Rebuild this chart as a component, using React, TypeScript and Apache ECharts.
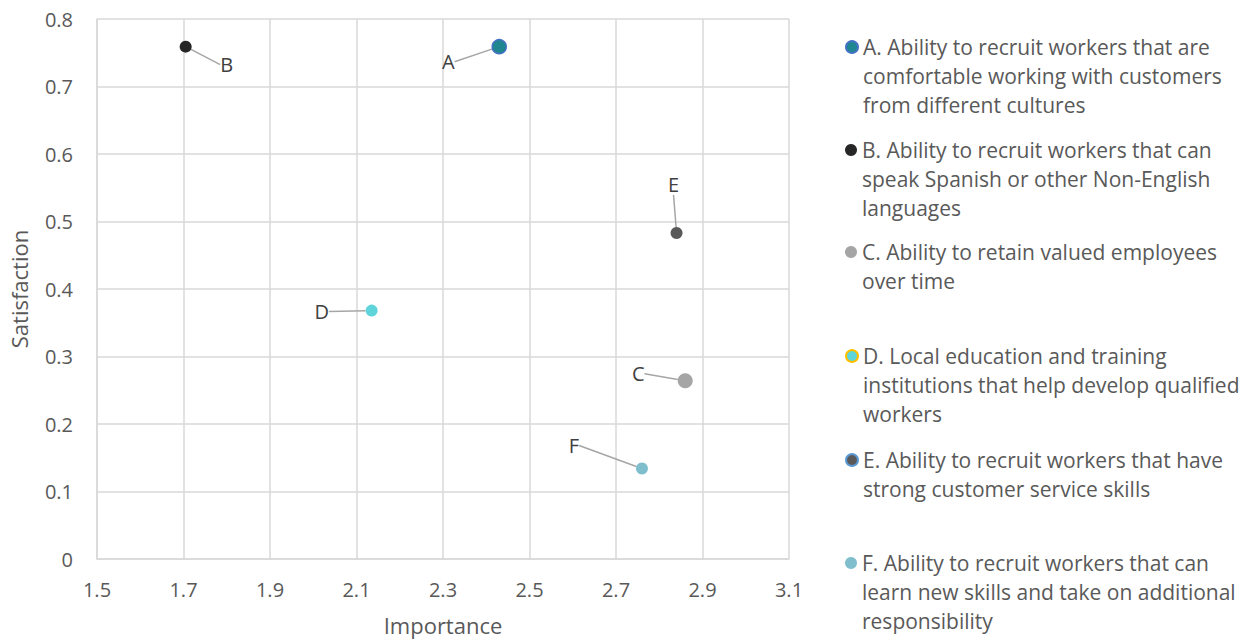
import React, { useEffect, useRef } from "react";
import * as echarts from "echarts";

const letters = ["A", "B", "C", "D", "E", "F"];
const legendLines = [
  ["A. Ability to recruit workers that are", "comfortable working with customers", "from different cultures"],
  ["B. Ability to recruit workers that can", "speak Spanish or other Non-English", "languages"],
  ["C. Ability to retain valued employees", "over time"],
  ["D. Local education and training", "institutions that help develop qualified", "workers"],
  ["E. Ability to recruit workers that have", "strong customer service skills"],
  ["F. Ability to recruit workers that can", "learn new skills and take on additional", "responsibility"],
];
const importance = [2.43, 1.705, 2.86, 2.135, 2.84, 2.76];
const satisfaction = [0.759, 0.759, 0.264, 0.368, 0.483, 0.134];
const xTicks = { min: 1.5, max: 3.1, interval: 0.2 };
const yTicks = { min: 0, max: 0.8, interval: 0.1 };

const fills = ["#20868f", "#262626", "#a5a5a5", "#5fd4da", "#595959", "#7fbfcd"];
const borders = ["#4472c4", null, null, null, null, null];
const legendBorders = ["#4472c4", null, null, "#ffc000", "#5b9bd5", null];
const sizes = [14, 12, 15, 12, 12, 12];
const labelOffsets = [
  [-51, 15],
  [41, 18],
  [-47, -7],
  [-50, 1],
  [-3, -48],
  [-68, -23],
];
const legendCenters = [47, 150, 252, 356, 460, 563];
const LINE_H = 29;
const FONT = "'Open Sans', sans-serif";

export default function App() {
  const ref = useRef<HTMLDivElement>(null);
  useEffect(() => {
    document.body.style.margin = "0";
    const chart = echarts.init(ref.current!, null, { renderer: "svg" });
    const series = letters.map((l, i) => ({
      type: "scatter",
      name: legendLines[i].join("\n"),
      data: [[importance[i], satisfaction[i], l]],
      symbol: "circle",
      symbolSize: sizes[i],
      itemStyle: {
        color: fills[i],
        borderColor: borders[i] || fills[i],
        borderWidth: borders[i] ? 1.5 : 0,
        opacity: 1,
      },
      label: {
        show: true,
        position: "inside",
        formatter: l,
        color: "#404040",
        fontSize: 20,
        fontFamily: FONT,
      },
      labelLayout: { dx: labelOffsets[i][0], dy: labelOffsets[i][1] },
      labelLine: { show: true, lineStyle: { color: "#a6a6a6", width: 1.5 } },
      emphasis: { disabled: true },
    }));
    const legends = letters.map((l, i) => {
      const n = legendLines[i].length;
      return {
        orient: "vertical",
        left: 845,
        top: legendCenters[i] - ((2 * n - 1) * LINE_H) / 2,
        padding: 0,
        itemWidth: 12,
        itemHeight: 12,
        itemGap: 0,
        icon: "circle",
        selectedMode: false,
        formatter: (name: string) => "\n".repeat(n - 1) + name,
        data: [
          {
            name: legendLines[i].join("\n"),
            itemStyle: legendBorders[i]
              ? { borderColor: legendBorders[i], borderWidth: 2 }
              : { borderWidth: 0 },
          },
        ],
        textStyle: {
          color: "#595959",
          fontSize: 21,
          fontFamily: FONT,
          lineHeight: LINE_H,
        },
      };
    });
    chart.setOption({
      animation: false,
      backgroundColor: "#ffffff",
      grid: {
        left: 97,
        right: 465,
        top: 19,
        bottom: 81,
        containLabel: false,
        outerBoundsMode: "none",
      },
      legend: legends,
      xAxis: {
        type: "value",
        min: xTicks.min,
        max: xTicks.max,
        interval: xTicks.interval,
        name: "Importance",
        nameLocation: "middle",
        nameGap: 55,
        nameTextStyle: { color: "#595959", fontSize: 22, fontFamily: FONT },
        axisLine: { show: true, lineStyle: { color: "#d9d9d9", width: 1.5 } },
        axisTick: { show: false },
        splitLine: { show: true, lineStyle: { color: "#d9d9d9", width: 1.5 } },
        axisLabel: {
          color: "#595959",
          fontSize: 20,
          fontFamily: FONT,
          margin: 20,
          formatter: (v: number) => String(Math.round(v * 10) / 10),
        },
      },
      yAxis: {
        type: "value",
        min: yTicks.min,
        max: yTicks.max,
        interval: yTicks.interval,
        name: "Satisfaction",
        nameLocation: "middle",
        nameGap: 67,
        nameTextStyle: { color: "#595959", fontSize: 22, fontFamily: FONT },
        axisLine: { show: true, lineStyle: { color: "#d9d9d9", width: 1.5 } },
        axisTick: { show: false },
        splitLine: { show: true, lineStyle: { color: "#d9d9d9", width: 1.5 } },
        axisLabel: {
          color: "#595959",
          fontSize: 20,
          fontFamily: FONT,
          margin: 24,
          formatter: (v: number) => String(Math.round(v * 10) / 10),
        },
      },
      series,
    });
    return () => chart.dispose();
  }, []);
  return <div ref={ref} style={{ width: 1254, height: 640 }} />;
}
